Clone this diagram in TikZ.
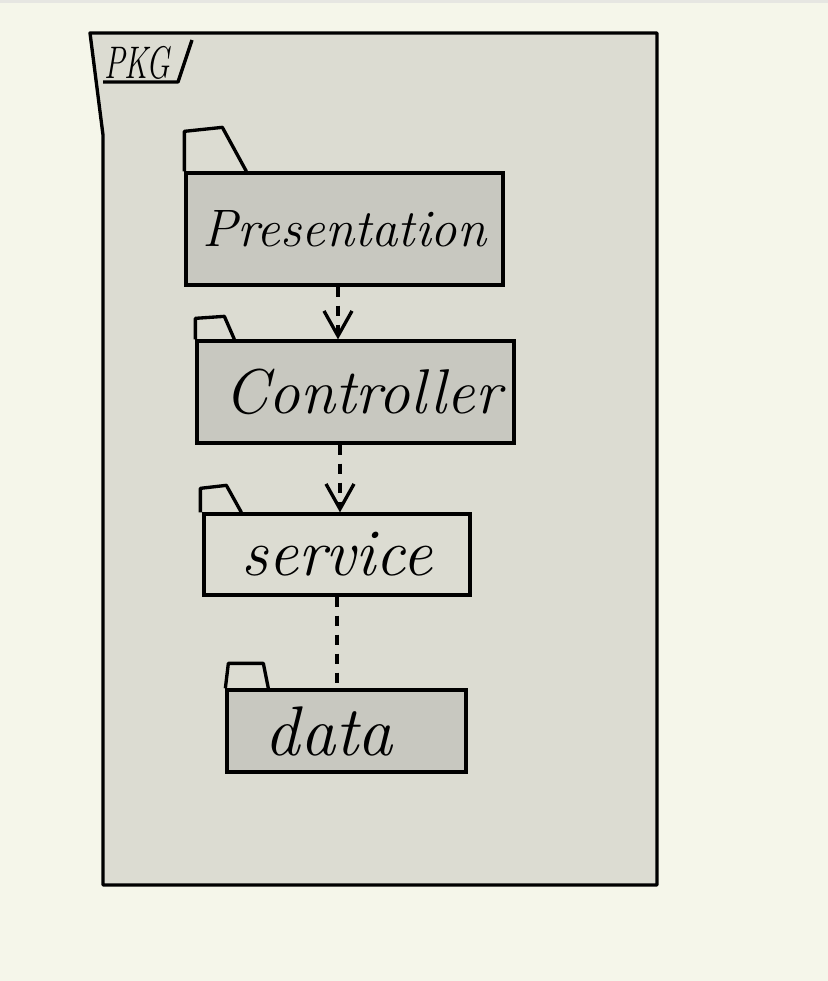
\documentclass[tikz,border=0pt]{standalone}
\usepackage{xcolor}
\usepackage{tikz}
\usetikzlibrary{arrows.meta}

\definecolor{pagebg}{HTML}{F5F6EA}
\definecolor{stripbg}{HTML}{E6E6E2}
\definecolor{framebg}{HTML}{DCDCD2}
\definecolor{boxbg}{HTML}{C8C8C0}

\tikzset{
    pkgbox/.style={line width=1.9pt, draw, rectangle, fill=boxbg, inner sep=0pt, font=\fontsize{30}{36}\selectfont\itshape},
    pkgtab/.style={line width=1.9pt, line join=round},
    depline/.style={line width=1.9pt, dash pattern=on 0.2cm off 0.18cm},
    deparrow/.style={depline, -{Straight Barb[length=0.5cm, width=0.56cm, line width=1.9pt]}},
}

\begin{document}
\begin{tikzpicture}[x=0.02cm, y=-0.02cm]
    \useasboundingbox (0, 0) rectangle (828, 981);
    \fill[pagebg] (0, 0) rectangle (828, 981);
    \fill[stripbg] (0, 0) rectangle (828, 3);

    % outer package frame
    \draw[line width=1.9pt, fill=framebg, line join=round] (90, 33) -- (657, 33) -- (657, 885) -- (103, 885) -- (103, 135) -- cycle;
    \node[font=\fontsize{26}{30}\selectfont\itshape, anchor=base west, inner sep=0pt] at (104, 78) (title) {\scalebox{0.68}[1]{PKG}};
    \draw[pkgtab] (103, 82) -- (178, 82) -- (192, 40);

    \node[pkgbox, minimum width=6.34cm, minimum height=2.24cm] at (344.5, 229) (pres) {Presentation};
    \node[pkgbox, font=\fontsize{36}{40}\selectfont\itshape, minimum width=6.34cm, minimum height=2.04cm] at (355.5, 392) (ctrl) {\hspace{0.3cm}Controller};
    \node[pkgbox, font=\fontsize{38}{42}\selectfont\itshape, fill=framebg, minimum width=5.32cm, minimum height=1.62cm] at (337, 554.5) (serv) {service};
    \node[pkgbox, font=\fontsize{40}{44}\selectfont\itshape, minimum width=4.78cm, minimum height=1.64cm] at (346.5, 731) (data) {data\kern0.7cm};

    % tabs
    \draw[pkgtab] (pres.north west) -- ++(0, -40) -- ++(38, -4) -- ++(24, 44);
    \draw[pkgtab] (ctrl.north west) -- ++(0, -21) -- ++(29, -2) -- ++(10, 23);
    \draw[pkgtab] ([xshift=-0.04cm]serv.north west) -- ++(0, -24) -- ++(26, -3) -- ++(15, 27);
    \draw[pkgtab] (data.north west) -- ++(3, -25) -- ++(35, 0) -- ++(5, 25);

    % dependencies
    \draw[deparrow] (pres.south -| 338, 0) -- (ctrl.north -| 338, 0);
    \draw[deparrow] (ctrl.south -| 340, 0) -- (serv.north -| 340, 0);
    \draw[depline] (serv.south -| 337, 0) -- (data.north -| 337, 0);
\end{tikzpicture}
\end{document}
